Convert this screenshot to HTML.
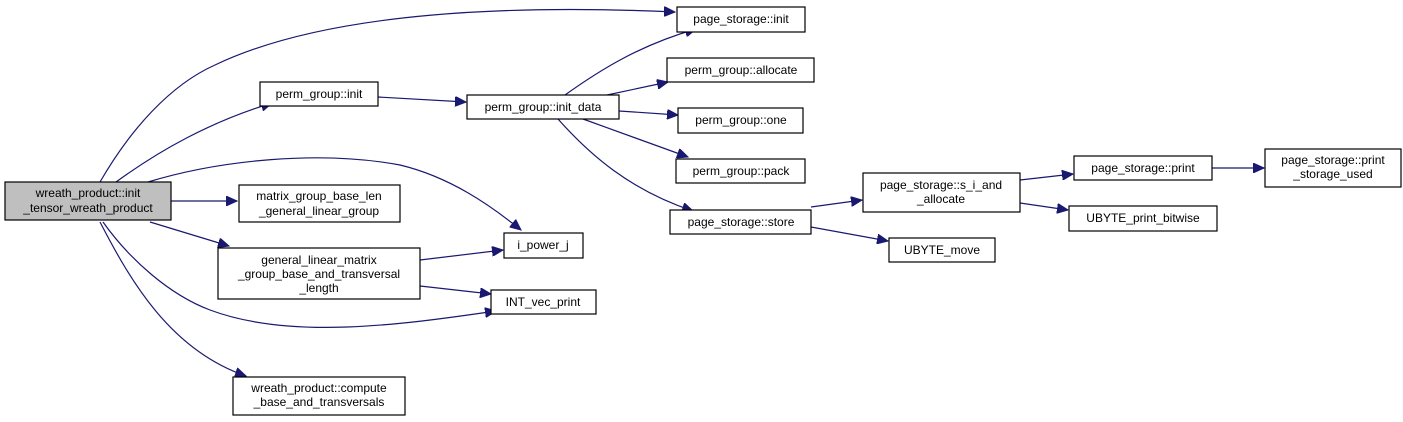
<!DOCTYPE html>
<html><head><meta charset="utf-8"><style>
body{margin:0;background:#fff;width:1403px;height:417px;overflow:hidden}
svg text{font-family:"Liberation Sans",sans-serif;font-size:12px;fill:#000;text-anchor:middle}
.b{fill:#fff;stroke:#000;stroke-width:1.2}
.e{fill:none;stroke:#191970;stroke-width:1.2}
</style></head><body>
<svg width="1403" height="417" viewBox="0 0 1403 417" xmlns="http://www.w3.org/2000/svg">
<defs><marker id="a" markerUnits="userSpaceOnUse" markerWidth="12" markerHeight="10" refX="11" refY="5" orient="auto"><path d="M0,0 L11,5 L0,10 z" fill="#191970" stroke="#191970"/></marker></defs>
<g marker-end="url(#a)">
<path class="e" d="M100,182 C130,130 170,85 215,65 C330,10 520,5 675,12"/>
<path class="e" d="M116,182 C160,150 210,122 272,103"/>
<path class="e" d="M148,182 C220,160 320,150 400,165 C450,177 490,205 521,230"/>
<path class="e" d="M171,201 L237,201"/>
<path class="e" d="M150,222 L229,246"/>
<path class="e" d="M103,222 C130,260 170,295 210,310 C290,340 400,325 496,311"/>
<path class="e" d="M100,222 C130,280 170,350 246,376"/>
<path class="e" d="M378,97 L466,102"/>
<path class="e" d="M565,95 C600,70 640,45 696,29"/>
<path class="e" d="M607,95 L668,82"/>
<path class="e" d="M619,111 L678,115"/>
<path class="e" d="M583,119 L688,157"/>
<path class="e" d="M558,119 C590,155 630,190 693,211"/>
<path class="e" d="M420,260 L503,250"/>
<path class="e" d="M420,286 L491,294"/>
<path class="e" d="M811,207 L862,200"/>
<path class="e" d="M811,227 L888,241"/>
<path class="e" d="M1020,180 L1073,174"/>
<path class="e" d="M1020,203 L1068,210"/>
<path class="e" d="M1212,168 L1264,168"/>
</g>
<rect x="5" y="182" width="166" height="38" fill="#bfbfbf" stroke="#000" stroke-width="1.2"/>
<text x="88" y="197">wreath_product::init</text><text x="88" y="212">_tensor_wreath_product</text>
<rect class="b" x="260" y="82" width="118" height="24"/><text x="319" y="98">perm_group::init</text>
<rect class="b" x="467" y="95" width="152" height="24"/><text x="543" y="111">perm_group::init_data</text>
<rect class="b" x="239" y="185" width="161" height="37"/><text x="319" y="200">matrix_group_base_len</text><text x="319" y="215">_general_linear_group</text>
<rect class="b" x="218" y="248" width="202" height="51"/><text x="319" y="264">general_linear_matrix</text><text x="319" y="278">_group_base_and_transversal</text><text x="319" y="292">_length</text>
<rect class="b" x="504" y="233" width="79" height="25"/><text x="543" y="249">i_power_j</text>
<rect class="b" x="491" y="290" width="105" height="24"/><text x="543" y="306">INT_vec_print</text>
<rect class="b" x="233" y="377" width="172" height="38"/><text x="319" y="392">wreath_product::compute</text><text x="319" y="406">_base_and_transversals</text>
<rect class="b" x="677" y="7" width="128" height="25"/><text x="741" y="23">page_storage::init</text>
<rect class="b" x="667" y="58" width="147" height="24"/><text x="741" y="74">perm_group::allocate</text>
<rect class="b" x="678" y="108" width="125" height="25"/><text x="741" y="124">perm_group::one</text>
<rect class="b" x="676" y="159" width="129" height="24"/><text x="741" y="175">perm_group::pack</text>
<rect class="b" x="670" y="210" width="141" height="24"/><text x="741" y="226">page_storage::store</text>
<rect class="b" x="863" y="173" width="157" height="39"/><text x="941" y="189">page_storage::s_i_and</text><text x="941" y="203">_allocate</text>
<rect class="b" x="889" y="238" width="106" height="24"/><text x="942" y="254">UBYTE_move</text>
<rect class="b" x="1074" y="156" width="138" height="24"/><text x="1143" y="172">page_storage::print</text>
<rect class="b" x="1069" y="206" width="148" height="25"/><text x="1143" y="222">UBYTE_print_bitwise</text>
<rect class="b" x="1265" y="149" width="136" height="38"/><text x="1333" y="164">page_storage::print</text><text x="1333" y="178">_storage_used</text>
</svg>
</body></html>
